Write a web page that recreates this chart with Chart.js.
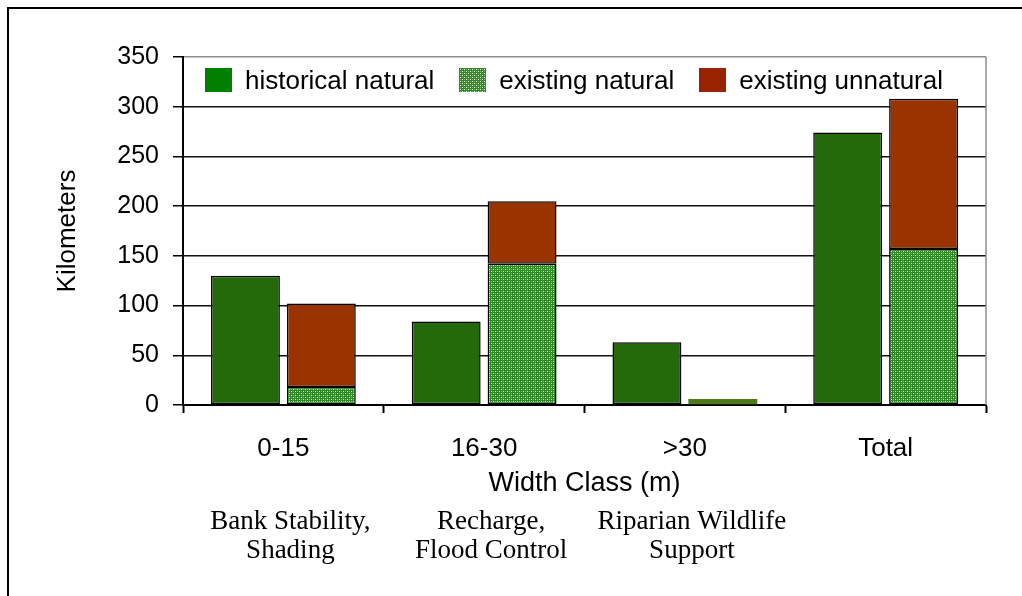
<!DOCTYPE html>
<html lang="en">
<head>
<meta charset="UTF-8" />
<title>Width Class chart</title>
<style>
  body{margin:0;background:#fff;width:1022px;height:596px;overflow:hidden;position:relative}
  #frame{position:absolute;left:7px;top:7px;width:1100px;height:700px;border:2px solid #000;box-sizing:border-box}
  #wrap{position:absolute;left:0;top:0;width:1022px;height:596px}
  #legend{position:absolute;left:205px;top:68px;display:flex;align-items:center;font:26px 'Liberation Sans',Arial,sans-serif;color:#000;line-height:24px}
  #legend .item{display:flex;align-items:center;margin-right:25px}
  #legend .box{width:27px;height:24px;margin-right:13px}
</style>
</head>
<body>
<div id="frame"></div>
<div id="wrap"><canvas id="chart" width="1022" height="596"></canvas></div>
<div id="legend"></div>

<script src="https://cdn.jsdelivr.net/npm/chart.js"></script>
<script>
/* ---------- data ---------- */
const categories = ['0-15', '16-30', '>30', 'Total'];
const historicalNatural = [130, 84, 63, 274];
const existingNatural   = [18, 142, 6, 157];
const existingUnnatural = [84, 63, 0, 151];
const yTicks = [0, 50, 100, 150, 200, 250, 300, 350];
const notes = [
  ['Bank Stability,', 'Shading'],
  ['Recharge,', 'Flood Control'],
  ['Riparian Wildlife', 'Support']
];

/* ---------- dotted green fill ---------- */
const tile = document.createElement('canvas');
tile.width = 4; tile.height = 4;
const tc = tile.getContext('2d');
tc.fillStyle = '#2f8a26'; tc.fillRect(0, 0, 4, 4);
tc.fillStyle = '#e6f4de'; tc.fillRect(1, 1, 1, 1); tc.fillRect(3, 3, 1, 1);
tc.fillStyle = '#7fbf6c'; tc.fillRect(3, 1, 1, 1); tc.fillRect(1, 3, 1, 1);
const ctx = document.getElementById('chart').getContext('2d');
const dots = ctx.createPattern(tile, 'repeat');

const datasets = [
  { label: 'historical natural', data: historicalNatural, stack: 'hist',
    backgroundColor: '#246a0a', legendColor: '#008000' },
  { label: 'existing natural', data: existingNatural, stack: 'exist',
    backgroundColor: c => (c.raw < 10 ? '#4f7a1a' : dots),
    borderWidth: c => (c.raw < 10 ? 0 : 1.5),
    legendColor: 'url(' + tile.toDataURL() + ')' },
  { label: 'existing unnatural', data: existingUnnatural, stack: 'exist',
    backgroundColor: '#993300', legendColor: '#992200' }
];
datasets.forEach(d => {
  d.borderColor = '#000';
  if (d.borderWidth === undefined) d.borderWidth = 1.5;
  d.borderSkipped = false;
  d.categoryPercentage = 0.756;
  d.barPercentage = 0.908;
});

/* ---------- legend (html) ---------- */
const leg = document.getElementById('legend');
datasets.forEach(d => {
  const it = document.createElement('div'); it.className = 'item';
  const b = document.createElement('div'); b.className = 'box';
  b.style.background = d.legendColor;
  const t = document.createElement('span'); t.textContent = d.label;
  it.appendChild(b); it.appendChild(t); leg.appendChild(it);
});

/* ---------- extra drawing ---------- */
const framePlugin = {
  id: 'frameBits',
  afterDraw(chart) {
    const {ctx, chartArea: a, scales: {x}} = chart;
    ctx.save();
    ctx.strokeStyle = '#8c8c8c'; ctx.lineWidth = 1.5;
    ctx.beginPath(); ctx.moveTo(a.right, a.top); ctx.lineTo(a.right, a.bottom); ctx.stroke();
    ctx.fillStyle = '#000';
    ctx.font = "27px 'Liberation Serif', 'Times New Roman', serif";
    ctx.textAlign = 'center'; ctx.textBaseline = 'middle';
    notes.forEach((lines, i) => {
      const cx = x.getPixelForValue(i) + 7;
      lines.forEach((s, j) => ctx.fillText(s, cx, 522 + j * 29));
    });
    ctx.restore();
  }
};

const sans = "'Liberation Sans', Arial, sans-serif";

new Chart(ctx, {
  type: 'bar',
  data: { labels: categories, datasets },
  plugins: [framePlugin],
  options: {
    responsive: false, animation: false, devicePixelRatio: 1,
    layout: { padding: { left: 50, top: 57, right: 36, bottom: 91 } },
    plugins: { legend: { display: false }, tooltip: { enabled: false } },
    scales: {
      x: {
        stacked: true,
        grid: { drawOnChartArea: false, tickLength: 8, tickColor: '#000', tickWidth: 2 },
        border: { color: '#000', width: 2 },
        ticks: { font: { family: sans, size: 26 }, color: '#000', padding: 20 },
        title: { display: true, text: 'Width Class (m)', font: { family: sans, size: 27 }, color: '#000', padding: { top: 4, bottom: 5 } },
        afterFit: s => { s.height = 100; }
      },
      y: {
        stacked: true, min: 0, max: 350,
        afterBuildTicks: s => { s.ticks = yTicks.map(v => ({ value: v })); },
        grid: {
          color: c => (c.tick && c.tick.value === 350 ? '#8c8c8c' : '#111'),
          lineWidth: 1.5, tickLength: 10, tickColor: '#000'
        },
        border: { color: '#000', width: 2 },
        ticks: { font: { family: sans, size: 25 }, color: '#000', padding: 14 },
        title: { display: true, text: 'Kilometers', font: { family: sans, size: 26 }, color: '#000', padding: { top: 2, bottom: 4 } },
        afterFit: s => { s.width = 133; }
      }
    }
  }
});
</script>
</body>
</html>
